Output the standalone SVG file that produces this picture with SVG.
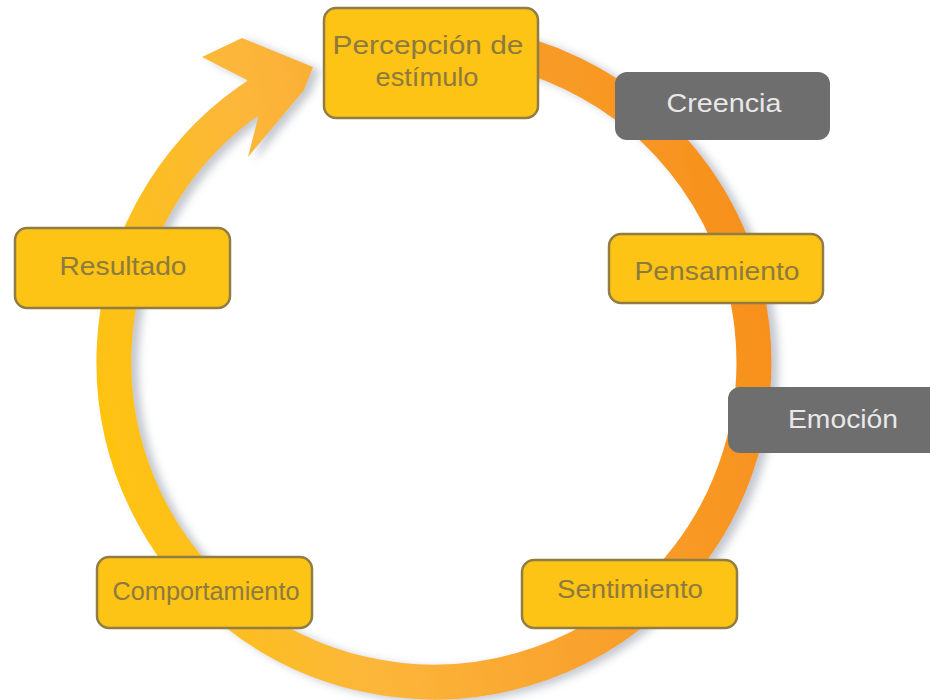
<svg xmlns="http://www.w3.org/2000/svg" width="930" height="700" viewBox="0 0 930 700">
  <defs>
    <linearGradient id="ringGrad" gradientUnits="userSpaceOnUse" x1="110" y1="450" x2="770" y2="300">
      <stop offset="0" stop-color="#fec310"/>
      <stop offset="0.3" stop-color="#fcb73a"/>
      <stop offset="0.6" stop-color="#f9a32e"/>
      <stop offset="1" stop-color="#f7901c"/>
    </linearGradient>
    <filter id="shadow" x="-10%" y="-10%" width="120%" height="120%">
      <feDropShadow dx="7" dy="3" stdDeviation="4" flood-color="#7a8494" flood-opacity="0.45"/>
    </filter>
  </defs>
  <style>
    .box { fill: #fdc315; stroke: #8f7d45; stroke-width: 2.5; }
    .gbox { fill: #6e6e6e; }
    .lbl { font-family: "Liberation Sans", Arial, sans-serif; font-size: 26px; fill: #8d7a3e; text-anchor: middle; }
    .glbl { font-family: "Liberation Sans", Arial, sans-serif; font-size: 26px; fill: #e8e8e8; text-anchor: middle; }
  </style>
  <rect width="930" height="700" fill="#ffffff"/>

  <g id="connectors" filter="url(#shadow)">
    <path d="M 434 42 A 320 320 0 1 1 264.4 90.6" fill="none" stroke="url(#ringGrad)" stroke-width="35"/>
    <polygon points="202,57 242,38 313,67 304,90 248,157 258,118 247,80" fill="url(#ringGrad)"/>
  </g>

  <g id="percepcion">
    <rect class="box" x="324" y="8" width="214" height="110" rx="12"/>
    <text class="lbl" x="428" y="54" textLength="191" lengthAdjust="spacingAndGlyphs">Percepción de</text>
    <text class="lbl" x="427" y="86" textLength="103" lengthAdjust="spacingAndGlyphs">estímulo</text>
  </g>

  <g id="creencia">
    <rect class="gbox" x="615" y="72" width="215" height="68" rx="12"/>
    <text class="glbl" x="724" y="112" textLength="115" lengthAdjust="spacingAndGlyphs">Creencia</text>
  </g>

  <g id="pensamiento">
    <rect class="box" x="609" y="234" width="214" height="69" rx="12"/>
    <text class="lbl" x="717" y="280" textLength="165" lengthAdjust="spacingAndGlyphs">Pensamiento</text>
  </g>

  <g id="emocion">
    <rect class="gbox" x="728" y="387" width="230" height="66" rx="12"/>
    <text class="glbl" x="843" y="428" textLength="110" lengthAdjust="spacingAndGlyphs">Emoción</text>
  </g>

  <g id="sentimiento">
    <rect class="box" x="522" y="560" width="215" height="68" rx="12"/>
    <text class="lbl" x="630" y="598" textLength="146" lengthAdjust="spacingAndGlyphs">Sentimiento</text>
  </g>

  <g id="comportamiento">
    <rect class="box" x="97" y="557" width="215" height="71" rx="12"/>
    <text class="lbl" x="206" y="600" textLength="187" lengthAdjust="spacingAndGlyphs">Comportamiento</text>
  </g>

  <g id="resultado">
    <rect class="box" x="15" y="228" width="215" height="80" rx="12"/>
    <text class="lbl" x="123" y="275" textLength="127" lengthAdjust="spacingAndGlyphs">Resultado</text>
  </g>
</svg>
